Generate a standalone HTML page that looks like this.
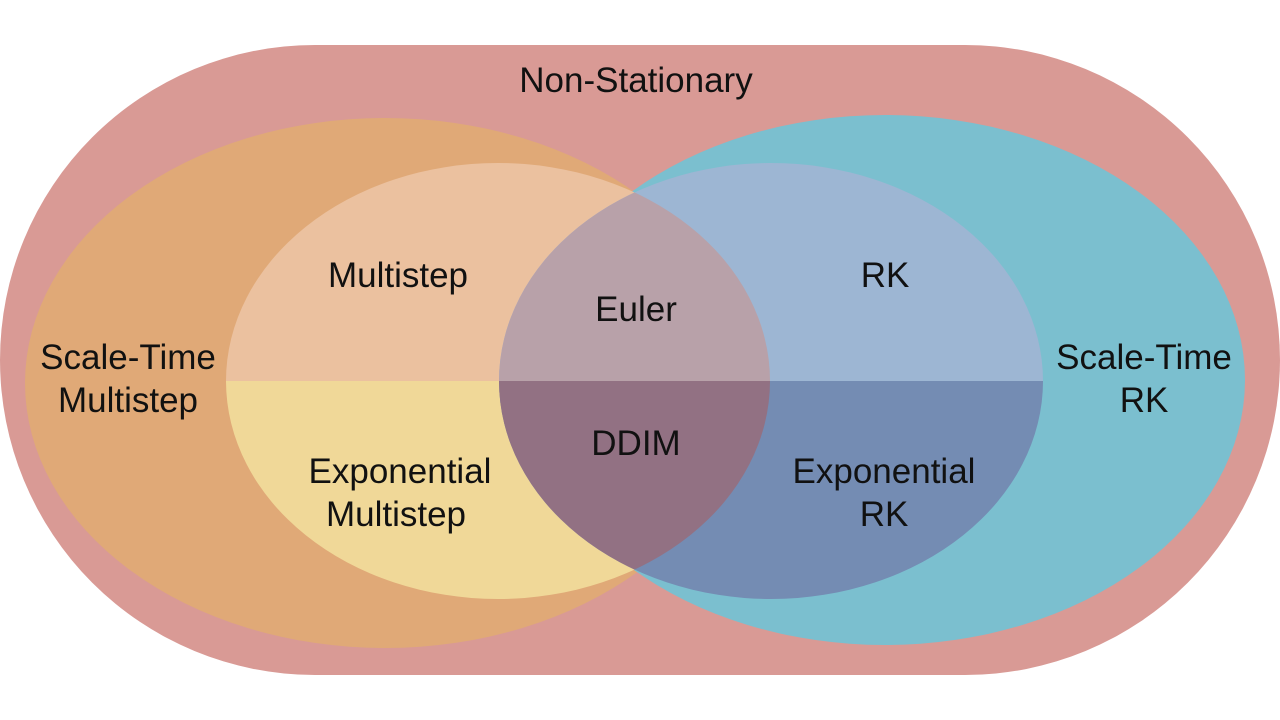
<!DOCTYPE html>
<html><head><meta charset="utf-8"><style>
html,body{margin:0;padding:0;background:#fff;}
svg{display:block;}
text{font-family:"Liberation Sans",Arial,sans-serif;font-size:35px;fill:#111;text-anchor:middle;}
</style></head><body>
<svg width="1280" height="720" viewBox="0 0 1280 720" xmlns="http://www.w3.org/2000/svg">
<defs>
<clipPath id="top"><rect x="0" y="0" width="1280" height="381"/></clipPath>
<clipPath id="bot"><rect x="0" y="381" width="1280" height="339"/></clipPath>
<clipPath id="li"><ellipse cx="498" cy="381" rx="272" ry="218"/></clipPath>
</defs>
<rect x="0" y="45" width="1280" height="630" rx="315" ry="315" fill="#D99A95"/>
<ellipse cx="385" cy="383" rx="360" ry="265" fill="#E0A977"/>
<ellipse cx="885" cy="380" rx="360" ry="265" fill="#7BBFCF"/>
<ellipse cx="498" cy="381" rx="272" ry="218" fill="#EBC19F" clip-path="url(#top)"/>
<ellipse cx="498" cy="381" rx="272" ry="218" fill="#F0D898" clip-path="url(#bot)"/>
<ellipse cx="771" cy="381" rx="272" ry="218" fill="#9DB6D3" clip-path="url(#top)"/>
<ellipse cx="771" cy="381" rx="272" ry="218" fill="#748CB3" clip-path="url(#bot)"/>
<g clip-path="url(#li)">
<ellipse cx="771" cy="381" rx="272" ry="218" fill="#B8A1A9" clip-path="url(#top)"/>
<ellipse cx="771" cy="381" rx="272" ry="218" fill="#927183" clip-path="url(#bot)"/>
</g>
<text x="636" y="92">Non-Stationary</text>
<text x="398" y="287">Multistep</text>
<text x="636" y="321">Euler</text>
<text x="885" y="287">RK</text>
<text x="128" y="369">Scale-Time</text>
<text x="128" y="412">Multistep</text>
<text x="1144" y="369">Scale-Time</text>
<text x="1144" y="412">RK</text>
<text x="636" y="455">DDIM</text>
<text x="400" y="483">Exponential</text>
<text x="396" y="526">Multistep</text>
<text x="884" y="483">Exponential</text>
<text x="884" y="526">RK</text>
</svg>
</body></html>
